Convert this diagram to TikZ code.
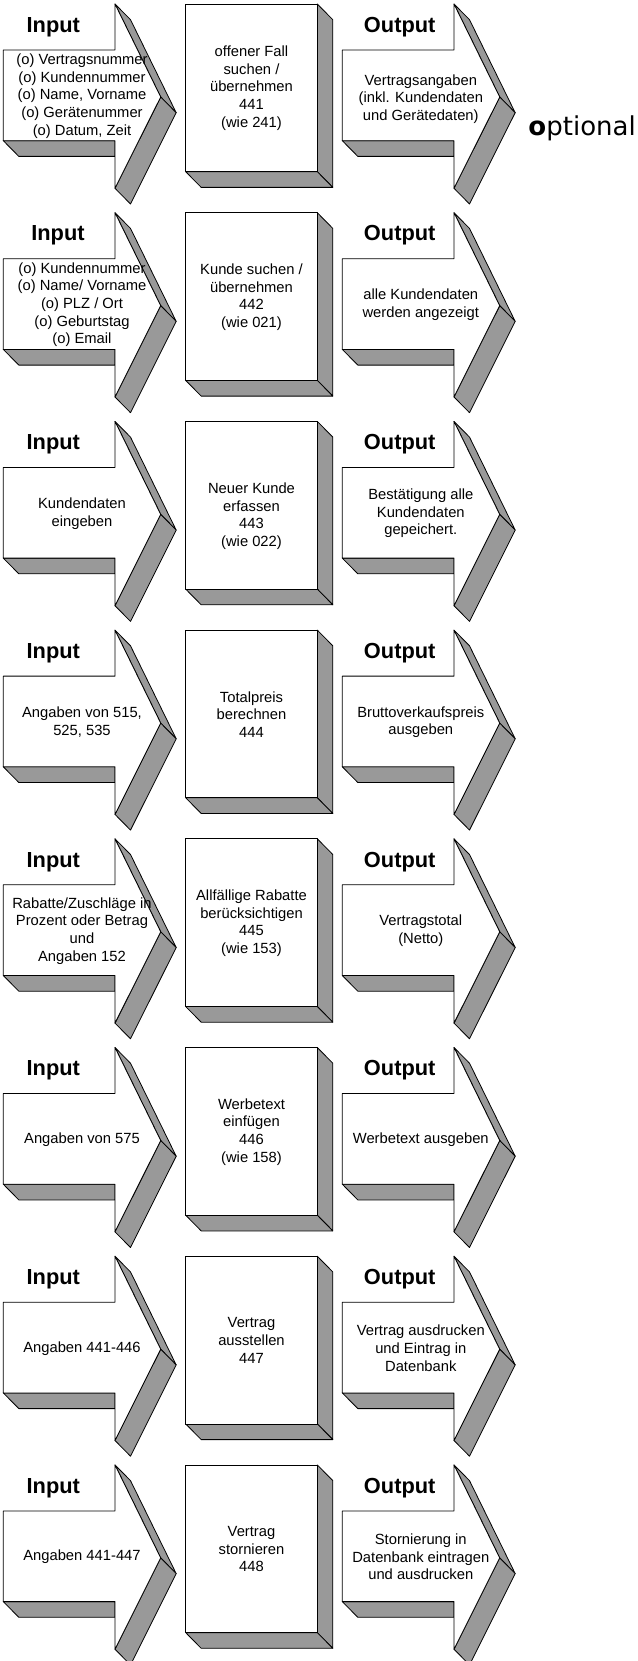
\documentclass[tikz,border=0pt]{standalone}
\usepackage{fontspec}
\setmainfont{Liberation Sans}
\newfontfamily\dejavu{DejaVu Sans}
\definecolor{sidegray}{RGB}{153,153,153}
\tikzset{
  face/.style={draw=black, line width=0.8pt, line join=round},
  frontface/.style={face, fill=white},
  sideface/.style={face, fill=sidegray},
  txt/.style={align=center, font=\fontsize{14.75}{17.6}\selectfont, inner sep=0pt},
  lbl/.style={anchor=base, font=\fontsize{21.8}{24}\selectfont\bfseries, inner sep=0pt},
  arrowthreed/.pic={
    \filldraw[sideface] (0,136.7) -- (111.7,136.7) -- (111.7,152.4) -- (15.5,152.4) -- cycle;
    \filldraw[sideface] (111.7,0) -- (157.4,93) -- (172.9,108.7) -- (127.2,15.7) -- cycle;
    \filldraw[sideface] (157.4,93) -- (111.7,184.3) -- (127.2,200) -- (172.9,108.7) -- cycle;
    \filldraw[frontface] (0,46) -- (111.7,46) -- (111.7,0) -- (157.4,93) -- (111.7,184.3)
      -- (111.7,136.7) -- (0,136.7) -- cycle;
  },
  boxthreed/.pic={
    \filldraw[sideface] (131.6,0) -- (147.1,15.7) -- (147.1,183.4) -- (131.6,167.7) -- cycle;
    \filldraw[sideface] (0,167.7) -- (131.6,167.7) -- (147.1,183.4) -- (15.5,183.4) -- cycle;
    \filldraw[frontface] (0,0) rectangle (131.6,167.7);
  }
}
\begin{document}
\begin{tikzpicture}[x=1pt,y=-1pt]
\useasboundingbox (0,0) rectangle (637,1661);
% shapes
\foreach \k in {0,...,7}{
  \pgfmathsetmacro{\T}{4+208.7*\k}
  \pic at (3.3,\T) {arrowthreed};
  \pic at (185.7,\T) {boxthreed};
  \pic at (342.3,\T) {arrowthreed};
  \node[lbl] (out\k) at (399.7,\T+28.3) {Output};
}
\foreach \k in {0,2,3,4,5,6,7}{
  \pgfmathsetmacro{\T}{4+208.7*\k}
  \node[lbl] (in\k) at (53.3,\T+28.3) {Input};
}
\node[lbl] (in1) at (58,212.7+28.3) {Input};

% row 1 (T=4)
\node[txt] (i1) at (82,96) {(o) Vertragsnummer\\(o) Kundennummer\\(o) Name, Vorname\\(o) Gerätenummer\\(o) Datum, Zeit};
\node[txt] (b1) at (251.5,88) {offener Fall\\suchen /\\übernehmen\\441\\(wie 241)};
\node[txt] (o1) at (420.8,99) {Vertragsangaben\\(inkl. Kundendaten\\und Gerätedaten)};
\node[anchor=base east, inner sep=0pt, font=\dejavu\fontsize{26}{30}\selectfont] (opt) at (636,136) {\textbf{o}ptional};

% row 2 (T=212.7)
\node[txt] (i2) at (82,304.7) {(o) Kundennummer\\(o) Name/ Vorname\\(o) PLZ / Ort\\(o) Geburtstag\\(o) Email};
\node[txt] (b2) at (251.5,297) {Kunde suchen /\\übernehmen\\442\\(wie 021)};
\node[txt] (o2) at (420.8,304.7) {alle Kundendaten\\werden angezeigt};

% row 3 (T=421.4)
\node[txt] (i3) at (82,513.4) {Kundendaten\\eingeben};
\node[txt] (b3) at (251.5,516.2) {Neuer Kunde\\erfassen\\443\\(wie 022)};
\node[txt] (o3) at (420.8,513.4) {Bestätigung alle\\Kundendaten\\gepeichert.};

% row 4 (T=630.1)
\node[txt] (i4) at (82,722.1) {Angaben von 515,\\525, 535};
\node[txt] (b4) at (251.5,714.4) {Totalpreis\\berechnen\\444};
\node[txt] (o4) at (420.8,722.1) {Bruttoverkaufspreis\\ausgeben};

% row 5 (T=838.8)
\node[txt] (i5) at (82,930.8) {Rabatte/Zuschläge in\\Prozent oder Betrag\\und\\Angaben 152};
\node[txt] (b5) at (251.5,923.1) {Allfällige Rabatte\\berücksichtigen\\445\\(wie 153)};
\node[txt] (o5) at (420.8,930.8) {Vertragstotal\\(Netto)};

% row 6 (T=1047.5)
\node[txt] (i6) at (82,1139.5) {Angaben von 575};
\node[txt] (b6) at (251.5,1131.8) {Werbetext\\einfügen\\446\\(wie 158)};
\node[txt] (o6) at (420.8,1139.5) {Werbetext ausgeben};

% row 7 (T=1256.2)
\node[txt] (i7) at (82,1348.2) {Angaben 441-446};
\node[txt] (b7) at (251.5,1340.5) {Vertrag\\ausstellen\\447};
\node[txt] (o7) at (420.8,1348.2) {Vertrag ausdrucken\\und Eintrag in\\Datenbank};

% row 8 (T=1464.9)
\node[txt] (i8) at (82,1556.9) {Angaben 441-447};
\node[txt] (b8) at (251.5,1549.2) {Vertrag\\stornieren\\448};
\node[txt] (o8) at (420.8,1556.9) {Stornierung in\\Datenbank eintragen\\und ausdrucken};
\end{tikzpicture}
\end{document}
